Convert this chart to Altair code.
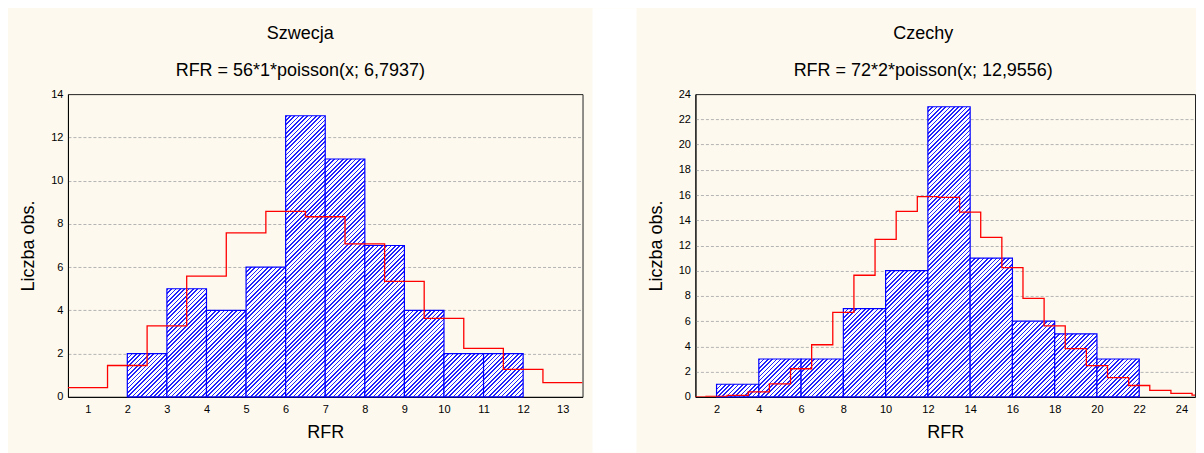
import altair as alt
import pandas as pd

FONT = "Liberation Sans"
CREAM = "#FDF9EE"
BLUE = "#0000FF"
STRIPE = "#2222FF"

# ---- data ----
sw_bin_start = [2, 3, 4, 5, 6, 7, 8, 9, 10, 11]
sw_counts = [2, 5, 4, 6, 13, 11, 7, 4, 2, 2]
sw_bin_width = 1
sw_fit_x = [1, 2, 3, 4, 5, 6, 7, 8, 9, 10, 11, 12, 13]
sw_fit_y = [0.43, 1.45, 3.28, 5.58, 7.58, 8.58, 8.33, 7.07, 5.34, 3.63, 2.24, 1.27, 0.66]
sw_ticks = [1, 2, 3, 4, 5, 6, 7, 8, 9, 10, 11, 12, 13]
sw_yticks = [0, 2, 4, 6, 8, 10, 12, 14]

cz_bin_start = [2, 4, 6, 8, 10, 12, 14, 16, 18, 20]
cz_counts = [1, 3, 3, 7, 10, 23, 11, 6, 5, 3]
cz_bin_width = 2
cz_fit_x = list(range(1, 26))
cz_fit_y = [0.0, 0.03, 0.12, 0.40, 1.03, 2.23, 4.13, 6.69, 9.64, 12.49, 14.71, 15.88,
            15.82, 14.64, 12.64, 10.24, 7.80, 5.62, 3.83, 2.48, 1.53, 0.90, 0.51, 0.27, 0.14]
cz_ticks = [2, 4, 6, 8, 10, 12, 14, 16, 18, 20, 22, 24]
cz_yticks = [0, 2, 4, 6, 8, 10, 12, 14, 16, 18, 20, 22, 24]

# ---- layout ----
PLOT_H = 303
SW_W, CZ_W = 515, 500
SW_DOMAIN, CZ_DOMAIN = [0.5, 13.5], [1, 24.64]   # right panel is cut by the window edge
SW_YMAX, CZ_YMAX = 14, 24


def hatch(w_px, h_px, period=4.3, frac=0.38):
    """Diagonal '/' hatch emulated with a hard-stop linear gradient."""
    gx, gy = 1.0 / h_px, 1.0 / w_px
    n2 = gx * gx + gy * gy
    c = (gx + gy) / n2
    dt = period / (w_px + h_px)
    stops = []
    t = 0.0
    while t < 1.0 - 1e-9:
        b = min(t + dt * frac, 1.0)
        e = min(t + dt, 1.0)
        stops += [(t, STRIPE), (b, STRIPE), (b, "#ffffff"), (e, "#ffffff")]
        t += dt
    return alt.LinearGradient(
        gradient="linear", x1=0, y1=0, x2=round(c * gx, 6), y2=round(c * gy, 6),
        stops=[alt.GradientStop(offset=round(o, 5), color=col) for o, col in stops],
    )


def panel(title, subtitle, starts, counts, bw, fx, fy, ticks, yticks, width, xdom, ymax, dx, extra):
    bars = pd.DataFrame({"i": range(len(starts)), "x0": starts,
                         "x1": [s + bw for s in starts], "n": counts})
    xsc = alt.Scale(domain=xdom, nice=False, zero=False)
    ysc = alt.Scale(domain=[0, ymax], nice=False)
    xax = alt.Axis(values=ticks, format="d", grid=False, ticks=False, labelPadding=7,
                   title="RFR", titlePadding=9)
    yax = alt.Axis(values=yticks, format="d", grid=True, gridDash=[3, 2], gridColor="#b4b4b4",
                   gridOpacity={"condition": {"test": f"datum.value == 0 || datum.value == {ymax}",
                                              "value": 0}, "value": 1},
                   ticks=False, labelPadding=5, title="Liczba obs.", titlePadding=13)
    px_x = width / (xdom[1] - xdom[0])
    px_y = PLOT_H / ymax
    layers = list(extra)
    for i, (s, n) in enumerate(zip(starts, counts)):
        layers.append(
            alt.Chart(bars).transform_filter(alt.datum.i == i)
            .mark_rect(fill=hatch(bw * px_x, n * px_y), stroke=BLUE, strokeWidth=1.2)
            .encode(x=alt.X("x0:Q", scale=xsc, axis=xax), x2="x1:Q",
                    y=alt.Y("n:Q", scale=ysc, axis=yax), y2=alt.datum(0))
        )
    lx = [v - 0.5 for v in fx] + [fx[-1] + 0.5]
    ly = list(fy) + [fy[-1]]
    fit = pd.DataFrame({"x": lx, "y": ly})
    layers.append(
        alt.Chart(fit).mark_line(color="#FF0000", strokeWidth=1.3, interpolate="step-after", clip=True)
        .encode(x=alt.X("x:Q", scale=xsc, axis=xax), y=alt.Y("y:Q", scale=ysc, axis=yax))
    )
    return alt.layer(*layers).properties(
        width=width, height=PLOT_H,
        title=alt.TitleParams(title, subtitle=subtitle, font=FONT, subtitleFont=FONT,
                              fontSize=18, subtitleFontSize=18, fontWeight="normal",
                              color="black", subtitleColor="black", anchor="middle",
                              dx=dx, offset=8, subtitlePadding=19),
    )


one = pd.DataFrame({"a": [0]})
left_bound = alt.Chart(one).mark_rect(fill=CREAM).encode(
    x=alt.value(-59), x2=alt.value(-58), y=alt.value(0), y2=alt.value(PLOT_H))

left = panel("Szwecja", "RFR = 56*1*poisson(x; 6,7937)", sw_bin_start, sw_counts, sw_bin_width,
             sw_fit_x, sw_fit_y, sw_ticks, sw_yticks, SW_W, SW_DOMAIN, SW_YMAX, -25, [left_bound])
right = panel("Czechy", "RFR = 72*2*poisson(x; 12,9556)", cz_bin_start, cz_counts, cz_bin_width,
              cz_fit_x, cz_fit_y, cz_ticks, cz_yticks, CZ_W, CZ_DOMAIN, CZ_YMAX, -22, [])

# white strip between the two cream panels
middle = alt.Chart(one).mark_rect(fill="#ffffff").encode(
    x=alt.value(0), x2=alt.value(44), y=alt.value(-86), y2=alt.value(359)
).properties(width=93, height=PLOT_H, view=alt.ViewBackground(strokeOpacity=0))

chart = (
    alt.hconcat(left, middle, right, spacing=10, bounds="flush")
    .properties(padding=0, background=CREAM)
    .configure_view(stroke="#222222", strokeWidth=1)
    .configure_axis(domainColor="#000000", domainWidth=1, labelColor="#000000", titleColor="#000000",
                    labelFont=FONT, titleFont=FONT, labelFontSize=11, titleFontSize=18,
                    titleFontWeight="normal")
)

chart.save("out.html", embed_options={"renderer": "svg", "actions": False})
